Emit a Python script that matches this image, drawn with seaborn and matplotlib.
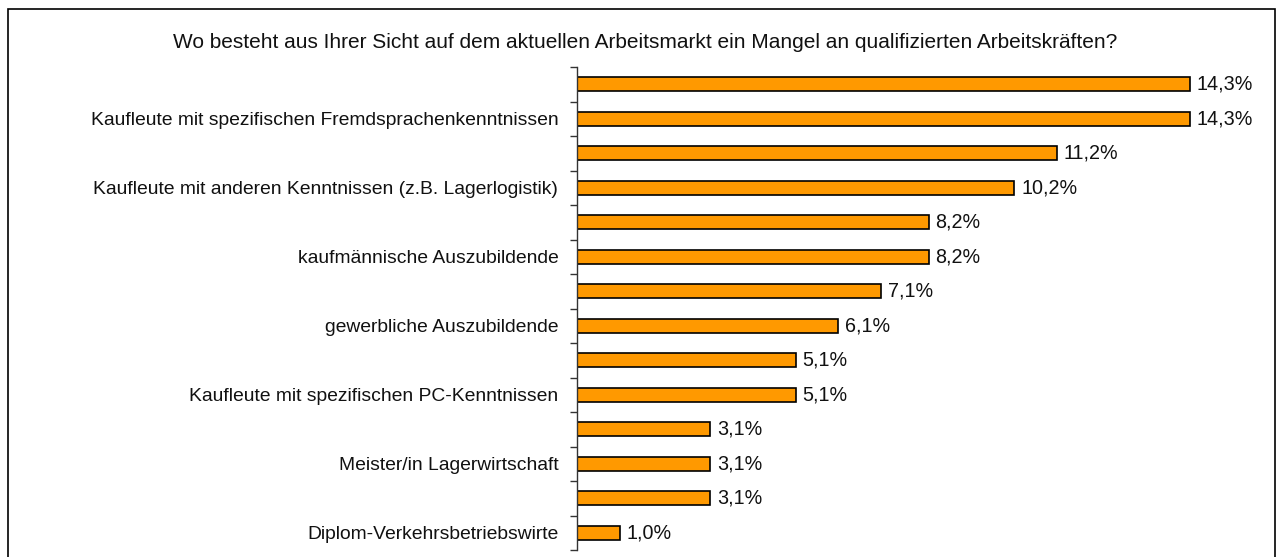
import matplotlib
matplotlib.use('Agg')
import matplotlib.pyplot as plt
from matplotlib.patches import Rectangle
import seaborn as sns
import numpy as np
import pandas as pd

TITLE = 'Wo besteht aus Ihrer Sicht auf dem aktuellen Arbeitsmarkt ein Mangel an qualifizierten Arbeitskräften?'

# Excel hat nur jede zweite Beschriftung angezeigt
labels = [
    '',
    'Kaufleute mit spezifischen Fremdsprachenkenntnissen',
    '',
    'Kaufleute mit anderen Kenntnissen (z.B. Lagerlogistik)',
    '',
    'kaufmännische Auszubildende',
    '',
    'gewerbliche Auszubildende',
    '',
    'Kaufleute mit spezifischen PC-Kenntnissen',
    '',
    'Meister/in Lagerwirtschaft',
    '',
    'Diplom-Verkehrsbetriebswirte',
]
values = [14.3, 14.3, 11.2, 10.2, 8.2, 8.2, 7.1, 6.1, 5.1, 5.1, 3.1, 3.1, 3.1, 1.0]

df = pd.DataFrame({'pos': np.arange(len(values)), 'wert': values})

sns.set_style('white')
plt.rcParams['font.family'] = ['Liberation Sans', 'DejaVu Sans']

W, H = 1276, 557
fig = plt.figure(figsize=(W / 100, H / 100), dpi=100)
ax = fig.add_axes([577 / W, 1 - 550 / H, (1265 - 577) / W, (550 - 67) / H])

sns.barplot(data=df, x='wert', y='pos', orient='h', color='#FF9900',
            edgecolor='black', linewidth=1.2, width=0.42, saturation=1, ax=ax)

ax.set_xlim(0, 16.05)
ax.set_ylim(len(values) - 0.5, -0.5)
ax.set_xlabel('')
ax.set_ylabel('')
ax.set_xticks([])

ax.set_yticks(np.arange(len(values)))
ax.set_yticklabels(labels, fontsize=13.9, color='#111111')
ax.set_yticks(np.arange(-0.5, len(values), 1), minor=True)
ax.tick_params(axis='y', which='major', left=False, pad=10)
ax.tick_params(axis='y', which='minor', left=True, length=5, width=1,
               color='#333333', direction='out')

for s in ['top', 'right', 'bottom']:
    ax.spines[s].set_visible(False)
ax.spines['left'].set_color('#333333')
ax.spines['left'].set_linewidth(1)

for i, v in enumerate(values):
    ax.text(v + 0.16, i, f'{v:.1f}%'.replace('.', ','), va='center', ha='left',
            fontsize=14.2, color='#111111')

fig.text(645 / W, 1 - 42 / H, TITLE, ha='center', va='center', fontsize=15, color='#111111')

# Rahmen um das Diagramm (unten abgeschnitten)
rect = Rectangle((8 / W, -0.05), (1275 - 8) / W, (1 - 9 / H) + 0.05,
                 transform=fig.transFigure, fill=False, edgecolor='black',
                 linewidth=1.2, clip_on=False)
fig.patches.append(rect)

fig.savefig('out.png', dpi=100)
